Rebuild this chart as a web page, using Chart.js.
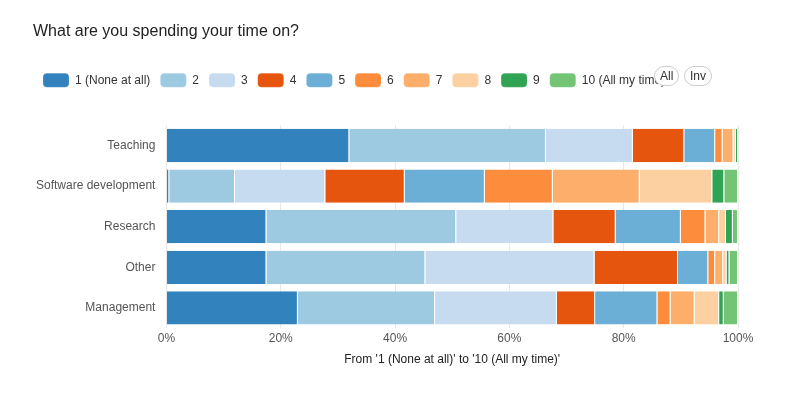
<!DOCTYPE html>
<html>
<head>
<meta charset="utf-8">
<script src="https://cdn.jsdelivr.net/npm/chart.js@4"></script>
<style>
body { margin: 0; background: #fff; font-family: "Liberation Sans", Arial, sans-serif; }
#wrap { position: relative; width: 808px; height: 409px; }
.pill { position: absolute; top: 66px; height: 18px; line-height: 18px; border: 1px solid #ccc; border-radius: 10px; font-size: 12px; color: #333; padding: 0 5px; background: #fff; }
</style>
</head>
<body>
<div id="wrap">
    <canvas id="timeChart" width="808" height="409"></canvas>
    <span class="pill" style="left:654px">All</span>
    <span class="pill" style="left:684px">Inv</span>
</div>
<script>
const labels = ["Teaching", "Software development", "Research", "Other", "Management"]

// percent of answers per category, answer 1..10
const answers = [
    ["1 (None at all)", [32.0, 0.5, 17.5, 17.5, 23.0]],
    ["2", [34.4, 11.5, 33.2, 27.8, 24.0]],
    ["3", [15.2, 15.8, 17.0, 29.6, 21.3]],
    ["4", [9.0, 13.9, 10.9, 14.6, 6.7]],
    ["5", [5.4, 14.0, 11.4, 5.3, 10.9]],
    ["6", [1.3, 11.9, 4.3, 1.2, 2.3]],
    ["7", [1.9, 15.2, 2.4, 1.4, 4.2]],
    ["8", [0.4, 12.7, 1.2, 0.6, 4.3]],
    ["9", [0.4, 2.1, 1.2, 0.5, 0.8]],
    ["10 (All my time)", [0, 2.4, 0.9, 1.5, 2.5]]
]

const colors = [
    "#3182bd", "#9ecae1", "#c6dbef", "#e6550d", "#6baed6",
    "#fd8d3c", "#fdae6b", "#fdd0a2", "#31a354", "#74c476"
]

const datasets = answers.map(([name, values], i) => ({
    label: name,
    data: values,
    backgroundColor: colors[i],
    borderColor: "rgba(255,255,255,0.6)",
    borderWidth: { left: 0, right: 1, top: 0, bottom: 0 },
    barPercentage: 0.82,
    categoryPercentage: 1
}))

// more room under the legend
const legendGap = {
    id: "legendGap",
    beforeInit(chart) {
        const fit = chart.legend.fit
        chart.legend.fit = function () {
            fit.bind(chart.legend)()
            this.height += 28
        }
    }
}

const config = {
    type: "bar",
    data: { labels: labels, datasets: datasets },
    options: {
        indexAxis: "y",
        responsive: false,
        animation: false,
        layout: { padding: { left: 33, right: 70, bottom: 38 } },
        scales: {
            x: {
                stacked: true,
                min: 0,
                max: 100,
                ticks: { stepSize: 20, callback: v => v + "%", color: "#555", font: { size: 12 } },
                grid: { color: "#e8e8e8", drawTicks: false },
                border: { display: false },
                title: { display: true, text: "From '1 (None at all)' to '10 (All my time)'", color: "#222", font: { size: 12 } }
            },
            y: {
                stacked: true,
                ticks: { color: "#555", font: { size: 12 } },
                grid: { display: false },
                border: { display: false }
            }
        },
        plugins: {
            title: {
                display: true,
                text: "What are you spending your time on?",
                align: "start",
                color: "#222",
                font: { size: 16, weight: "normal" },
                padding: { top: 22, bottom: 22 }
            },
            legend: {
                align: "start",
                labels: {
                    boxWidth: 26,
                    boxHeight: 14,
                    useBorderRadius: true,
                    borderRadius: 4,
                    color: "#333",
                    font: { size: 12 },
                    padding: 10
                }
            },
            tooltip: { enabled: false }
        }
    },
    plugins: [legendGap]
}

const timeChart = new Chart(document.getElementById("timeChart"), config)
</script>
</body>
</html>
